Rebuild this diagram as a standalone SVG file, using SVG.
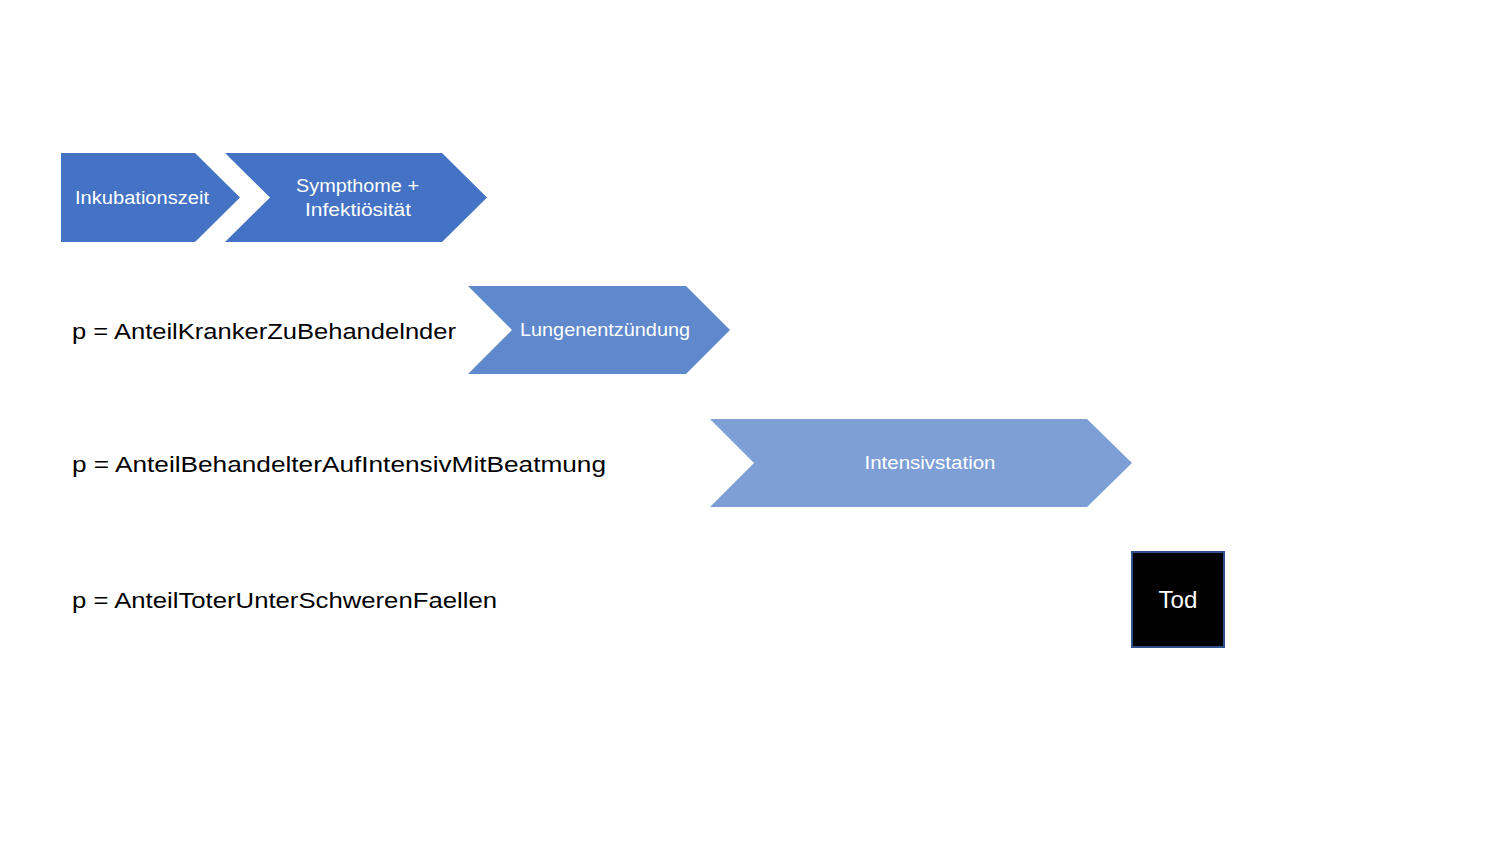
<svg xmlns="http://www.w3.org/2000/svg" width="1500" height="844" viewBox="0 0 1500 844">
<style>
.lbl{font-family:"Liberation Sans",Arial,sans-serif;font-size:22px;fill:#000}
.wt{font-family:"Liberation Sans",Arial,sans-serif;font-size:18px;fill:#fff;text-anchor:middle}
</style>
<rect width="1500" height="844" fill="#fff"/>
<g id="connectors"></g>
<g id="inkubation">
<polygon points="61,153 195,153 240,197.5 195,242 61,242" fill="#4472C4"/>
<text class="wt" x="142" y="204" textLength="134" lengthAdjust="spacingAndGlyphs">Inkubationszeit</text>
</g>
<g id="sympthome">
<polygon points="225,153 442,153 487,197.5 442,242 225,242 270,197.5" fill="#4472C4"/>
<text class="wt" x="357.5" y="192" textLength="123" lengthAdjust="spacingAndGlyphs">Sympthome +</text>
<text class="wt" x="358" y="216" textLength="106" lengthAdjust="spacingAndGlyphs">Infektiösität</text>
</g>
<g id="label1">
<text class="lbl" x="72" y="339" textLength="384" lengthAdjust="spacingAndGlyphs">p = AnteilKrankerZuBehandelnder</text>
</g>
<g id="lunge">
<polygon points="468,286 686,286 730,330 686,374 468,374 512,330" fill="#5F88CD"/>
<text class="wt" x="605" y="336" textLength="170" lengthAdjust="spacingAndGlyphs">Lungenentzündung</text>
</g>
<g id="label2">
<text class="lbl" x="72" y="472" textLength="534" lengthAdjust="spacingAndGlyphs">p = AnteilBehandelterAufIntensivMitBeatmung</text>
</g>
<g id="intensiv">
<polygon points="710,419 1087,419 1132,463 1087,507 710,507 754,463" fill="#7E9ED6"/>
<text class="wt" x="930" y="469" textLength="131" lengthAdjust="spacingAndGlyphs">Intensivstation</text>
</g>
<g id="label3">
<text class="lbl" x="72" y="608" textLength="425" lengthAdjust="spacingAndGlyphs">p = AnteilToterUnterSchwerenFaellen</text>
</g>
<g id="tod">
<rect x="1132" y="552" width="92" height="95" fill="#000" stroke="#2F528F" stroke-width="2"/>
<text class="wt" x="1178" y="608" style="font-size:24px" textLength="39" lengthAdjust="spacingAndGlyphs">Tod</text>
</g>
</svg>
